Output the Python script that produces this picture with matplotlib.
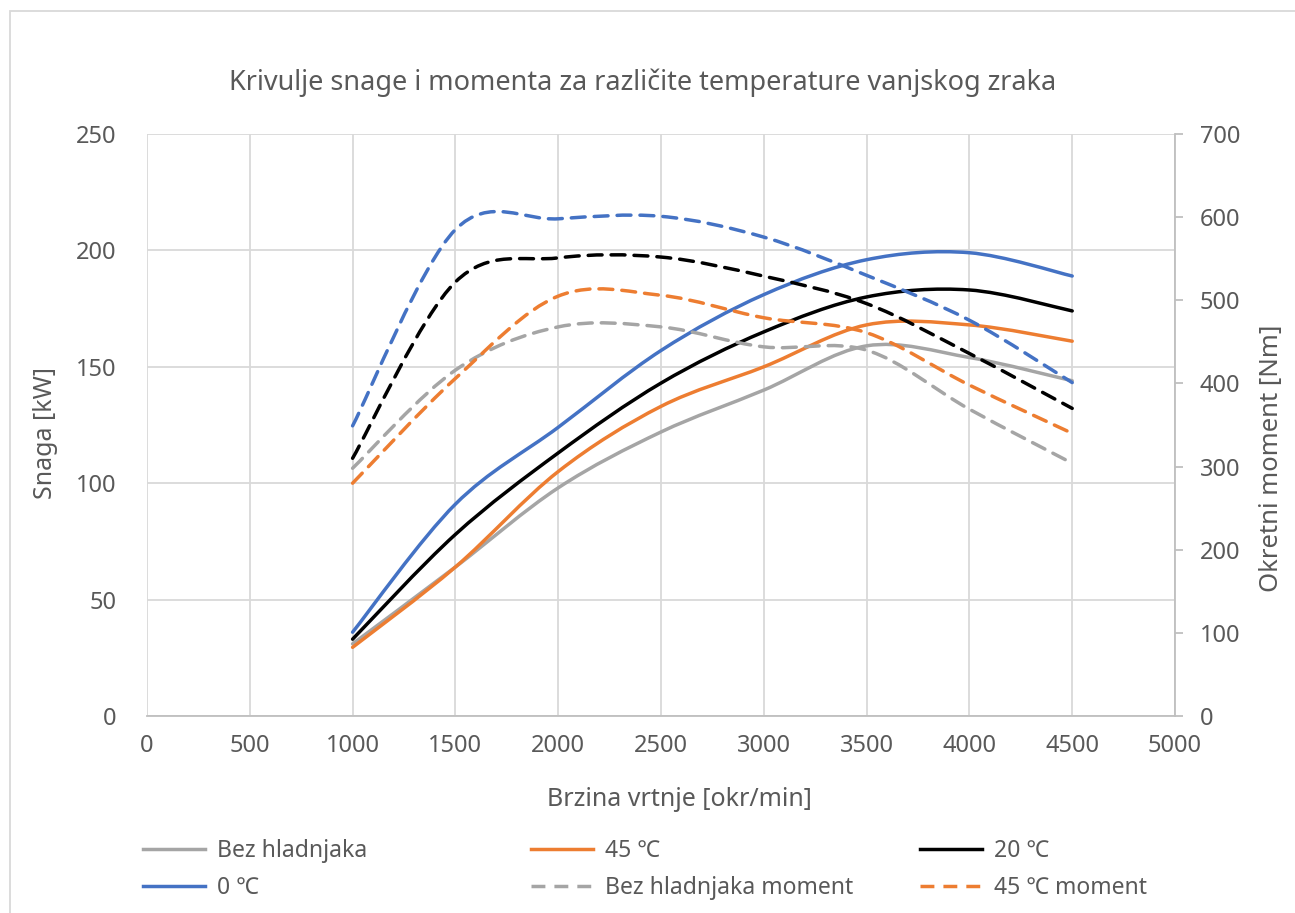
import matplotlib
matplotlib.use("Agg")
import matplotlib.pyplot as plt
from matplotlib.path import Path
from matplotlib.patches import PathPatch, Rectangle
from matplotlib.lines import Line2D
import numpy as np

plt.rcParams['font.family'] = ['Noto Sans', 'DejaVu Sans']

# Engine speed [okr/min]
rpm = [1000, 1500, 2000, 2500, 3000, 3500, 4000, 4500]

# Power [kW]
snaga_bez = [31, 64, 98, 122, 140, 159, 154, 144]
snaga_45 = [29.5, 64, 105, 133, 150, 168, 168, 161]
snaga_20 = [33, 78, 113, 143, 165, 180, 183, 174]
snaga_0 = [36, 91, 124, 157, 181, 196, 199, 189]

# Torque [Nm]
moment_bez = [298, 416, 468, 468, 444, 440, 369, 304]
moment_45 = [280, 406, 505, 506, 479, 461, 398, 340]
moment_20 = [310, 522, 551, 552, 529, 496, 436, 370]
moment_0 = [349, 585, 598, 601, 576, 530, 476, 401]

title = "Krivulje snage i momenta za različite temperature vanjskog zraka"
xlabel = "Brzina vrtnje [okr/min]"
ylabel_left = "Snaga [kW]"
ylabel_right = "Okretni moment [Nm]"

C_GRAY = "#A5A5A5"
C_ORANGE = "#ED7D31"
C_BLACK = "#000000"
C_BLUE = "#4472C4"
TXT = "#595959"
GRID = "#D9D9D9"
AXLINE = "#BFBFBF"
DASH = (0, (4, 2.6))
LW = 2.5


def smooth_path(xs, ys):
    """Cubic Bezier path through the points (Catmull-Rom style tangents)."""
    pts = np.column_stack([xs, ys]).astype(float)
    n = len(pts)
    verts = [pts[0]]
    codes = [Path.MOVETO]
    for i in range(n - 1):
        p0 = pts[i - 1] if i > 0 else pts[i]
        p1 = pts[i]
        p2 = pts[i + 1]
        p3 = pts[i + 2] if i + 2 < n else pts[i + 1]
        c1 = p1 + (p2 - p0) / 6.0
        c2 = p2 - (p3 - p1) / 6.0
        verts += [c1, c2, p2]
        codes += [Path.CURVE4] * 3
    return Path(verts, codes)


def draw(ax, xs, ys, color, ls="-"):
    patch = PathPatch(smooth_path(xs, ys), fill=False, edgecolor=color,
                      linewidth=LW, linestyle=ls, capstyle="round",
                      joinstyle="round")
    ax.add_patch(patch)


W, H = 1295, 913
fig = plt.figure(figsize=(W / 100, H / 100), dpi=100)
ax = fig.add_axes([147 / W, 1 - 716 / H, (1175 - 147) / W, (716 - 134) / H])
ax2 = ax.twinx()

# chart area frame
fig.patches.append(Rectangle((10 / W, -0.1), 1.2, 1 - 11 / H + 0.1,
                             transform=fig.transFigure, fill=False,
                             edgecolor=GRID, linewidth=1.3))

ax.set_xlim(0, 5000)
ax.set_ylim(0, 250)
ax2.set_ylim(0, 700)
ax.set_xticks(np.arange(0, 5001, 500))
ax.set_yticks(np.arange(0, 251, 50))
ax2.set_yticks(np.arange(0, 701, 100))

ax.grid(True, color=GRID, linewidth=1.3)
ax.set_axisbelow(True)
for s in ["top", "left", "right"]:
    ax.spines[s].set_visible(False)
ax.spines["bottom"].set_color(AXLINE)
ax.spines["bottom"].set_linewidth(1.3)
for s in ["top", "left", "bottom"]:
    ax2.spines[s].set_visible(False)
ax2.spines["right"].set_color(AXLINE)
ax2.spines["right"].set_linewidth(1.3)

ax.tick_params(axis="x", length=0, pad=13, labelsize=17, labelcolor=TXT)
ax.tick_params(axis="y", length=0, pad=22, labelsize=17, labelcolor=TXT)
ax2.tick_params(axis="y", length=6, width=1.3, color=AXLINE, pad=12,
                labelsize=17, labelcolor=TXT)

draw(ax, rpm, snaga_bez, C_GRAY)
draw(ax, rpm, snaga_45, C_ORANGE)
draw(ax, rpm, snaga_20, C_BLACK)
draw(ax, rpm, snaga_0, C_BLUE)
draw(ax2, rpm, moment_bez, C_GRAY, DASH)
draw(ax2, rpm, moment_45, C_ORANGE, DASH)
draw(ax2, rpm, moment_20, C_BLACK, DASH)
draw(ax2, rpm, moment_0, C_BLUE, DASH)

fig.text(643 / W, 1 - 83 / H, title, ha="center", va="center",
         fontsize=19.5, color=TXT)
fig.text(679 / W, 1 - 800 / H, xlabel, ha="center", va="center",
         fontsize=18, color=TXT)
fig.text(45 / W, 1 - 433 / H, ylabel_left, ha="center", va="center",
         rotation=90, fontsize=18, color=TXT)
fig.text(1272 / W, 1 - 458 / H, ylabel_right, ha="center", va="center",
         rotation=90, fontsize=18.5, color=TXT)

# legend, three columns
columns = [
    [("Bez hladnjaka", C_GRAY, "-"), ("0 \u2103", C_BLUE, "-")],
    [("45 \u2103", C_ORANGE, "-"), ("Bez hladnjaka moment", C_GRAY, DASH)],
    [("20 \u2103", C_BLACK, "-"), ("45 \u2103 moment", C_ORANGE, DASH)],
]
col_x = [143, 531, 920]
for cx, entries in zip(col_x, columns):
    handles = [Line2D([], [], color=c, linewidth=LW, linestyle=ls)
               for _, c, ls in entries]
    labels = [t for t, _, _ in entries]
    fig.legend(handles, labels, loc="upper left",
               bbox_to_anchor=(cx / W, 1 - 839 / H), frameon=False,
               borderpad=0, borderaxespad=0, handlelength=2.7,
               handletextpad=0.55, labelspacing=0.55, fontsize=16.5,
               labelcolor=TXT)

fig.savefig("out.png", dpi=100)
